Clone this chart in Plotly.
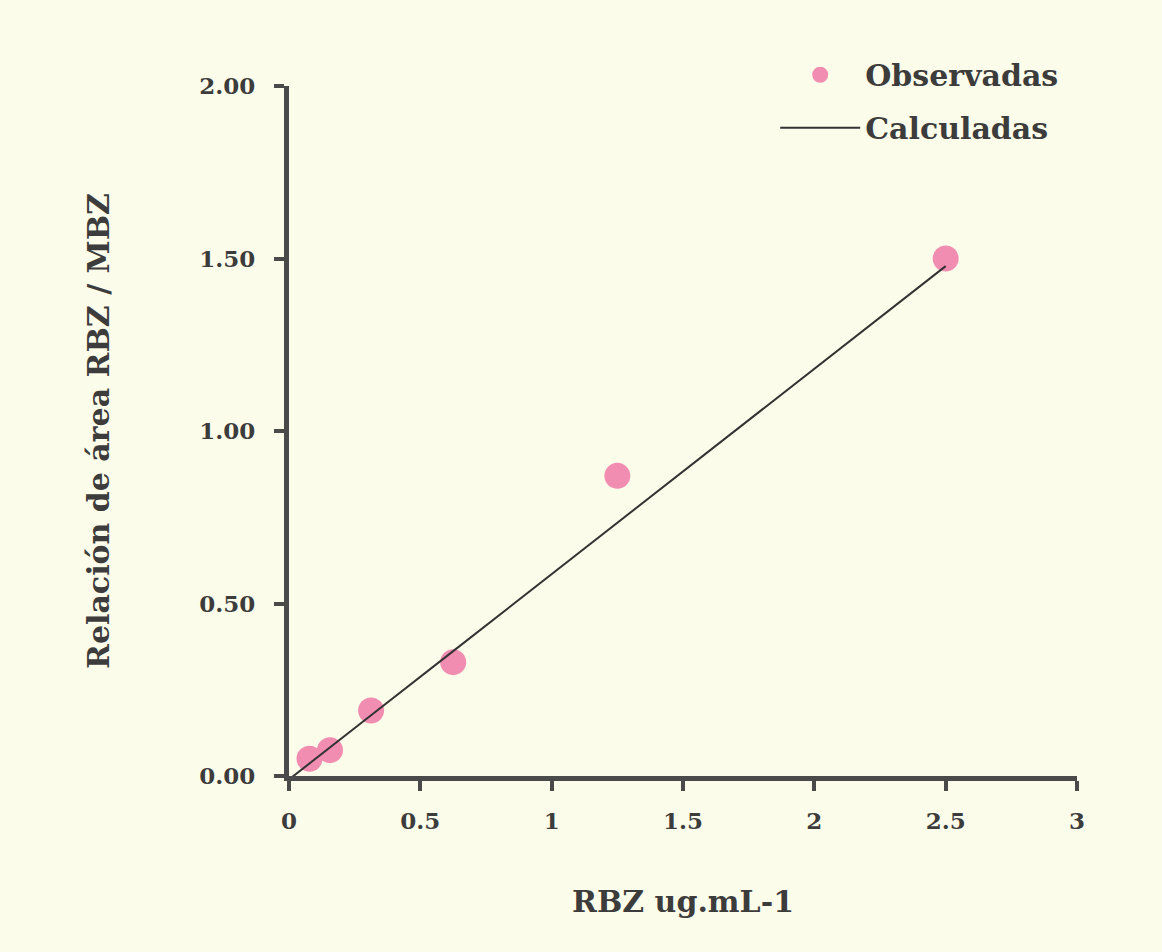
import plotly.graph_objects as go

conc = [0.078, 0.156, 0.3125, 0.625, 1.25, 2.5]
observed = [0.05, 0.075, 0.19, 0.33, 0.87, 1.50]
calc_x = [0.0, 0.078, 0.156, 0.3125, 0.625, 1.25, 2.5]
calculated = [-0.01, 0.036, 0.083, 0.176, 0.362, 0.734, 1.478]

x_ticks = [0, 0.5, 1, 1.5, 2, 2.5, 3]
x_labels = ["0", "0.5", "1", "1.5", "2", "2.5", "3"]
y_ticks = [0, 0.5, 1.0, 1.5, 2.0]
y_labels = ["0.00", "0.50", "1.00", "1.50", "2.00"]

bg = "#FCFCEA"
ink = "#3c3c3c"

fig = go.Figure()
fig.add_trace(go.Scatter(
    x=conc, y=observed, mode="markers", name="Observadas", legendgroup="obs",
    marker=dict(color="#F28DB2", size=26, line=dict(width=0)),
    cliponaxis=False,
))
fig.add_trace(go.Scatter(
    x=calc_x, y=calculated, mode="lines", name="Calculadas", legendgroup="calc",
    line=dict(color="#333333", width=2),
))

fig.update_layout(
    width=1162, height=952,
    paper_bgcolor=bg, plot_bgcolor=bg,
    margin=dict(l=289, r=85, t=86, b=176),
    font=dict(family="DejaVu Serif", color=ink),
    showlegend=True,
    legend=dict(
        x=0.617, y=1.054, xanchor="left", yanchor="top",
        bgcolor="rgba(0,0,0,0)",
        font=dict(family="DejaVu Serif", size=30, color=ink, weight="bold"),
        itemwidth=80, tracegroupgap=11,
    ),
    xaxis=dict(
        range=[0, 3], tickvals=x_ticks, ticktext=x_labels,
        showline=True, linecolor="#4a4a4a", linewidth=5,
        ticks="outside", ticklen=10, tickwidth=4, tickcolor="#4a4a4a",
        showgrid=False, zeroline=False,
        tickfont=dict(family="DejaVu Serif", size=23, color=ink, weight="bold"),
        ticklabelstandoff=10,
        title=dict(text="RBZ ug.mL-1", standoff=60,
                   font=dict(family="DejaVu Serif", size=30, color=ink, weight="bold")),
    ),
    yaxis=dict(
        range=[0, 2], tickvals=y_ticks, ticktext=y_labels,
        showline=True, linecolor="#4a4a4a", linewidth=5,
        ticks="outside", ticklen=10, tickwidth=4, tickcolor="#4a4a4a",
        showgrid=False, zeroline=False,
        tickfont=dict(family="DejaVu Serif", size=23, color=ink, weight="bold"),
        ticklabelstandoff=14,
        title=dict(text="Relación de área RBZ / MBZ", standoff=82,
                   font=dict(family="DejaVu Serif", size=30, color=ink, weight="bold")),
    ),
)

fig.write_html("out.html")
